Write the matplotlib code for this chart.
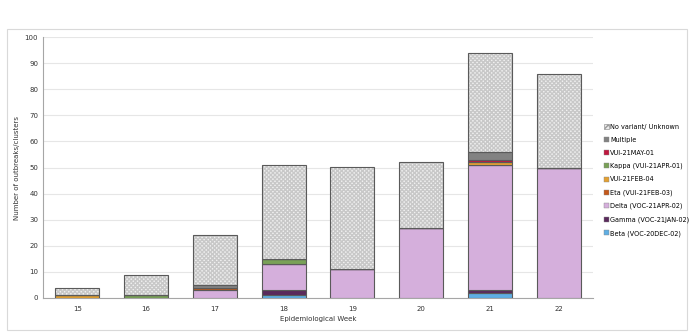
import numpy as np
import matplotlib
matplotlib.use("Agg")
import matplotlib.pyplot as plt
from matplotlib.patches import Rectangle

# donnees
weeks = ['15', '16', '17', '18', '19', '20', '21', '22']
beta = [0, 0, 0, 1, 0, 0, 2, 0]
gamma = [0, 0, 0, 2, 0, 0, 1, 0]
delta = [0, 0, 3, 10, 11, 27, 48, 50]
eta = [0, 0, 1, 0, 0, 0, 0, 0]
vui_feb04 = [1, 0, 0, 0, 0, 0, 1, 0]
kappa = [0, 1, 0, 2, 0, 0, 0, 0]
vui_may01 = [0, 0, 0, 0, 0, 0, 1, 0]
multiple = [0, 0, 1, 0, 0, 0, 3, 0]
unknown = [3, 8, 19, 36, 39, 25, 38, 36]

series = [
    ('Beta (VOC-20DEC-02)', beta, '#5FAEE3'),
    ('Gamma (VOC-21JAN-02)', gamma, '#5A2A5C'),
    ('Delta (VOC-21APR-02)', delta, '#D5AFDC'),
    ('Eta (VUI-21FEB-03)', eta, '#C4581A'),
    ('VUI-21FEB-04', vui_feb04, '#E3A032'),
    ('Kappa (VUI-21APR-01)', kappa, '#79A157'),
    ('VUI-21MAY-01', vui_may01, '#C0173F'),
    ('Multiple', multiple, '#828282'),
]

plt.rcParams['font.family'] = ['DejaVu Sans']
fig = plt.figure(figsize=(6.96, 3.32), dpi=100)
ax = fig.add_axes([43 / 696, 1 - 298 / 332, 550 / 696, 261 / 332])

x = np.arange(len(weeks))
w = 0.64
bottom = np.zeros(len(weeks))
for name, vals, col in series:
    vals = np.array(vals, dtype=float)
    ax.bar(x, vals, w, bottom=bottom, color=col, edgecolor='#5A5A5A',
           linewidth=0.8, zorder=3)
    bottom += vals

# barres inconnues : hachures claires + contour fonce
unk = np.array(unknown, dtype=float)
ax.bar(x, unk, w, bottom=bottom, color='#F0F0F0', edgecolor='#C8C8C8',
       hatch='xxxxxxxx', linewidth=0, zorder=3)
ax.bar(x, unk, w, bottom=bottom, color='none', edgecolor='#5A5A5A',
       linewidth=0.8, zorder=4)

ax.set_xlim(-0.5, len(weeks) - 0.5)
ax.set_ylim(0, 100)
ax.set_yticks(range(0, 101, 10))
ax.set_xticks(x)
ax.set_xticklabels(weeks)
ax.tick_params(axis='both', labelsize=5, length=0, colors='#333333')
ax.tick_params(axis='x', pad=6)
ax.grid(axis='y', color='#E6E6E6', linewidth=0.8, zorder=0)
for s in ['top', 'right']:
    ax.spines[s].set_visible(False)
ax.spines['left'].set_color('#A6A6A6')
ax.spines['bottom'].set_color('#A6A6A6')
ax.set_ylabel('Number of outbreaks/clusters', fontsize=5, color='#333333', labelpad=3)
ax.set_xlabel('Epidemiological Week', fontsize=5, color='#333333', labelpad=3)

# legende : ordre inverse de l'empilement
leg_h = [Rectangle((0, 0), 1, 1, facecolor='#EBEBEB', edgecolor='#999999',
                   hatch='xxxx', linewidth=0.5)]
leg_l = ['No variant/ Unknown']
for name, vals, col in reversed(series):
    leg_h.append(Rectangle((0, 0), 1, 1, facecolor=col, edgecolor='#888888', linewidth=0.3))
    leg_l.append(name)
fig.legend(leg_h, leg_l, loc='upper left', bbox_to_anchor=(601 / 696, 1 - 121 / 332),
           frameon=False, fontsize=4.7, handlelength=0.8, handleheight=0.8,
           handletextpad=0.2, labelspacing=1.08, borderaxespad=0)

# cadre exterieur
fig.patches.append(Rectangle((7 / 696, 2 / 332), 680 / 696, 301 / 332,
                             transform=fig.transFigure, fill=False,
                             edgecolor='#D9D9D9', linewidth=0.8))

fig.savefig('out.png', dpi=100)
